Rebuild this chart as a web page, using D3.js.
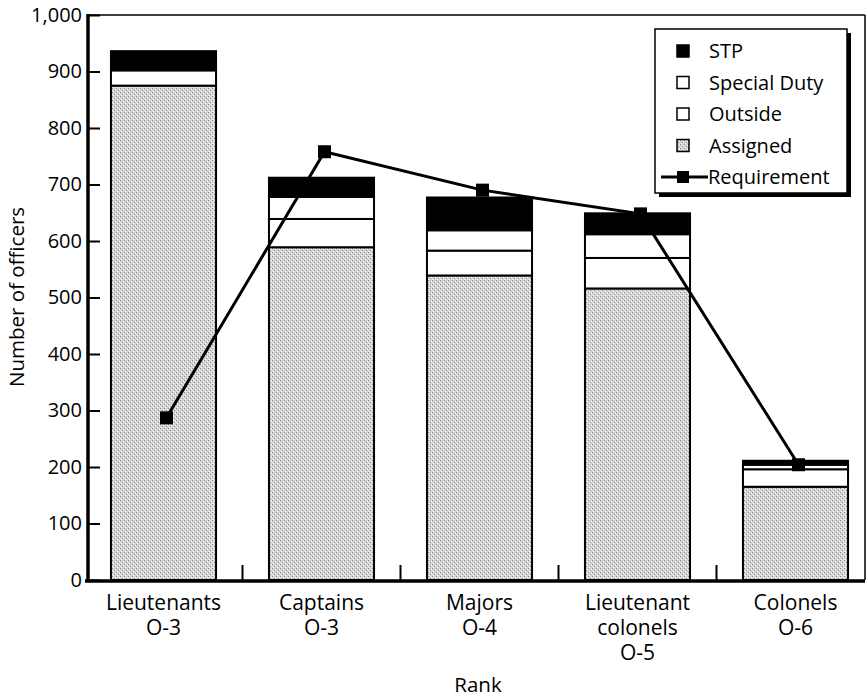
<!DOCTYPE html>
<html>
<head>
<meta charset="utf-8">
<script src="https://cdn.jsdelivr.net/npm/d3@7"></script>
<style>
  body { margin: 0; background: #fff; }
  text { font-family: "Open Sans", "Noto Sans", sans-serif; fill: #000; }
</style>
</head>
<body>
<svg id="chart" width="868" height="697"></svg>
<script>
// Categories (multi-line labels)
var categories = ["Lieutenants\nO-3", "Captains\nO-3", "Majors\nO-4", "Lieutenant\ncolonels\nO-5", "Colonels\nO-6"];

// Stacked series values, bottom to top
var assigned    = [875, 589, 539, 516, 165];
var outside     = [27, 50, 44, 54, 31];
var specialDuty = [0, 39, 36, 42, 8];
var stp         = [34, 34, 58, 37, 7];

// Requirement line
var requirement = [287, 758, 690, 648, 204];

var yTicks = [0, 100, 200, 300, 400, 500, 600, 700, 800, 900, 1000];

var svg = d3.select("#chart");

// Plot frame
var plotLeft = 88, plotRight = 865, plotTop = 15, plotBottom = 580;

var y = d3.scaleLinear().domain([0, 1000]).range([plotBottom, plotTop]);
var x = d3.scaleBand().domain(categories).range([84.5, 874.5])
    .paddingInner(0.335).paddingOuter(0.1675);

// stipple pattern for "Assigned"
var defs = svg.append("defs");
var pat = defs.append("pattern")
    .attr("id", "stipple")
    .attr("patternUnits", "userSpaceOnUse")
    .attr("width", 4).attr("height", 4);
pat.append("rect").attr("width", 4).attr("height", 4).attr("fill", "#d6d6d6");
pat.append("rect").attr("x", 0).attr("y", 0).attr("width", 1).attr("height", 1).attr("fill", "#8a8a8a");
pat.append("rect").attr("x", 2).attr("y", 2).attr("width", 1).attr("height", 1).attr("fill", "#8a8a8a");
pat.append("rect").attr("x", 3).attr("y", 1).attr("width", 1).attr("height", 1).attr("fill", "#ffffff");
pat.append("rect").attr("x", 1).attr("y", 3).attr("width", 1).attr("height", 1).attr("fill", "#ffffff");

var seriesDefs = [
    { key: "Assigned", values: assigned, fill: "url(#stipple)" },
    { key: "Outside", values: outside, fill: "#fff" },
    { key: "Special Duty", values: specialDuty, fill: "#fff" },
    { key: "STP", values: stp, fill: "#000" }
];

// Build stacked data
var rows = categories.map(function(c, i) {
    var r = { cat: c };
    seriesDefs.forEach(function(s) { r[s.key] = s.values[i]; });
    return r;
});
var stacked = d3.stack().keys(seriesDefs.map(function(s) { return s.key; }))(rows);

// Draw bars
stacked.forEach(function(layer, li) {
    svg.append("g")
        .selectAll("rect")
        .data(layer)
        .enter()
        .append("rect")
        .attr("x", function(d) { return x(d.data.cat); })
        .attr("y", function(d) { return y(d[1]); })
        .attr("width", x.bandwidth())
        .attr("height", function(d) { return y(d[0]) - y(d[1]); })
        .style("fill", seriesDefs[li].fill)
        .style("stroke", "#000")
        .style("stroke-width", 2);
});

// Frame: thin top and right
svg.append("line").attr("x1", plotLeft).attr("x2", plotRight).attr("y1", plotTop).attr("y2", plotTop)
    .style("stroke", "#000").style("stroke-width", 1.5);
svg.append("line").attr("x1", plotRight).attr("x2", plotRight).attr("y1", plotTop).attr("y2", plotBottom)
    .style("stroke", "#000").style("stroke-width", 1.5);

// Y axis
var yAxis = svg.append("g").attr("transform", "translate(" + plotLeft + ",0)")
    .call(d3.axisLeft(y).tickValues(yTicks).tickSize(-12).tickPadding(18)
        .tickFormat(d3.format(",")));
yAxis.select(".domain").remove();
yAxis.selectAll(".tick line").style("stroke", "#000").style("stroke-width", 2);
yAxis.selectAll(".tick text")
    .attr("x", -6)
    .style("font-size", "20px")
    .style("font-family", "\"Open Sans\", sans-serif");
svg.append("line").attr("x1", plotLeft).attr("x2", plotLeft).attr("y1", plotTop - 1).attr("y2", plotBottom + 1.5)
    .style("stroke", "#000").style("stroke-width", 3.5);

// X axis baseline
svg.append("line").attr("x1", plotLeft - 3).attr("x2", plotRight).attr("y1", plotBottom + 1).attr("y2", plotBottom + 1)
    .style("stroke", "#000").style("stroke-width", 3.5);

// Ticks between categories
var step = x.step();
svg.append("g").selectAll("line")
    .data(categories.slice(0, -1))
    .enter()
    .append("line")
    .attr("x1", function(d) { return x(d) + x.bandwidth() + (step - x.bandwidth()) / 2; })
    .attr("x2", function(d) { return x(d) + x.bandwidth() + (step - x.bandwidth()) / 2; })
    .attr("y1", plotBottom)
    .attr("y2", plotBottom - 15)
    .style("stroke", "#000").style("stroke-width", 2);

// Category labels
svg.append("g").selectAll("text")
    .data(categories)
    .enter()
    .append("text")
    .attr("text-anchor", "middle")
    .style("font-size", "21px")
    .each(function(d) {
        var t = d3.select(this);
        d.split("\n").forEach(function(line, i) {
            t.append("tspan")
                .attr("x", x(d) + x.bandwidth() / 2)
                .attr("y", 610 + i * 25)
                .text(line);
        });
    });

// Axis titles
svg.append("text")
    .attr("x", 478).attr("y", 692)
    .attr("text-anchor", "middle")
    .style("font-size", "20.5px")
    .text("Rank");
svg.append("text")
    .attr("transform", "translate(24,297) rotate(-90)")
    .attr("text-anchor", "middle")
    .style("font-size", "20.5px")
    .text("Number of officers");

// Requirement line
var line = d3.line()
    .x(function(d, i) { return x(categories[i]) + x.bandwidth() / 2 + 3; })
    .y(function(d) { return y(d); });
svg.append("path")
    .datum(requirement)
    .attr("d", line)
    .style("fill", "none")
    .style("stroke", "#000")
    .style("stroke-width", 3);
svg.append("g").selectAll("rect")
    .data(requirement)
    .enter()
    .append("rect")
    .attr("x", function(d, i) { return x(categories[i]) + x.bandwidth() / 2 + 3 - 6.5; })
    .attr("y", function(d) { return y(d) - 6.5; })
    .attr("width", 13).attr("height", 13)
    .style("fill", "#000");

// Legend
var lg = svg.append("g").attr("class", "legend");
var lx = 655, ly = 29, lw = 192, lh = 164;
lg.append("rect").attr("x", lx + 4).attr("y", ly + 4).attr("width", lw).attr("height", lh)
    .style("fill", "#000");
lg.append("rect").attr("x", lx).attr("y", ly).attr("width", lw).attr("height", lh)
    .style("fill", "#fff").style("stroke", "#000").style("stroke-width", 1.5);

var legendItems = [
    { key: "STP", fill: "#000" },
    { key: "Special Duty", fill: "#fff" },
    { key: "Outside", fill: "#fff" },
    { key: "Assigned", fill: "url(#stipple)" },
    { key: "Requirement", fill: null }
];
legendItems.forEach(function(d, i) {
    var cy = ly + 22 + i * 31.5;
    if (d.fill) {
        lg.append("rect")
            .attr("x", 677).attr("y", cy - 6)
            .attr("width", 12).attr("height", 12)
            .style("fill", d.fill).style("stroke", "#000").style("stroke-width", 1.5);
    } else {
        lg.append("line").attr("x1", 661).attr("x2", 708).attr("y1", cy).attr("y2", cy)
            .style("stroke", "#000").style("stroke-width", 3);
        lg.append("rect").attr("x", 677).attr("y", cy - 6).attr("width", 12).attr("height", 12)
            .style("fill", "#000");
    }
    lg.append("text")
        .attr("x", d.fill ? 709 : 708)
        .attr("y", cy)
        .attr("dy", "0.35em")
        .style("font-size", "20px")
        .text(d.key);
});
</script>
</body>
</html>
